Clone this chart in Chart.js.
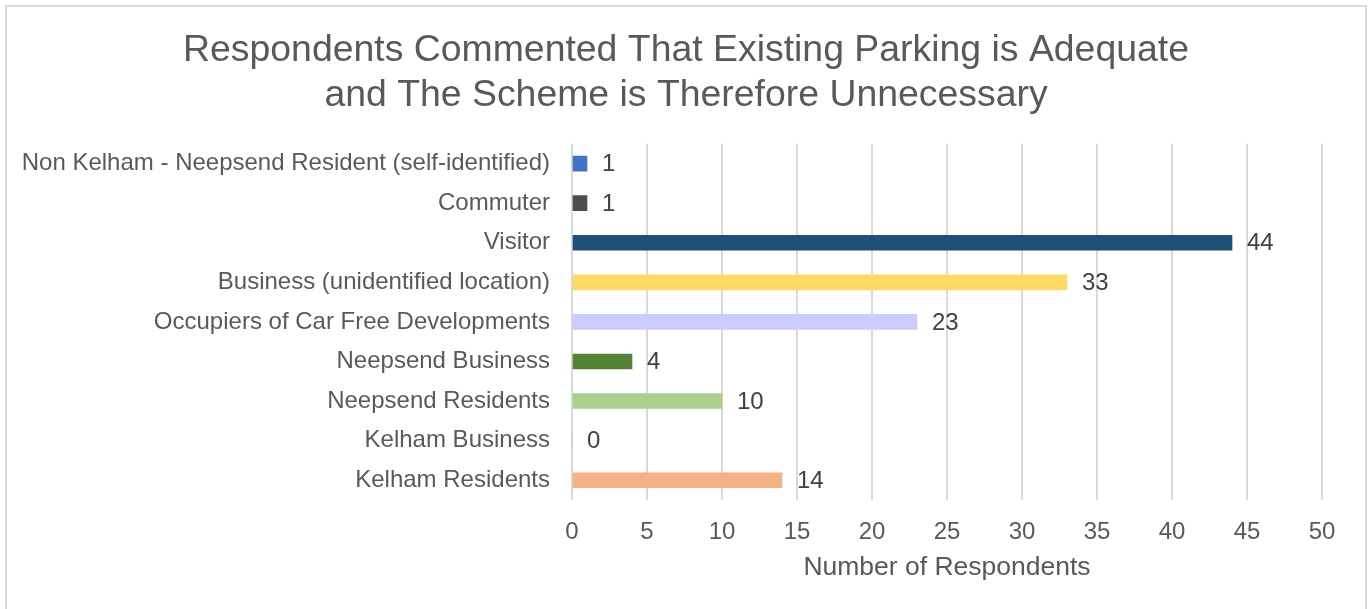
<!DOCTYPE html>
<html>
<head>
<meta charset="utf-8">
<script src="https://cdn.jsdelivr.net/npm/chart.js@4"></script>
<style>
  html, body { margin: 0; padding: 0; background: #fff; }
  #frame { position: absolute; left: 5px; top: 5px; width: 1358px; height: 620px; border: 2px solid #d9d9d9; }
  #wrap { position: absolute; left: 0; top: 0; width: 1369px; height: 609px; }
</style>
</head>
<body>
<div id="frame"></div>
<div id="wrap"><canvas id="respondentsChart" width="1369" height="609"></canvas></div>
<script>
const categories = [
    'Non Kelham - Neepsend Resident (self-identified)',
    'Commuter',
    'Visitor',
    'Business (unidentified location)',
    'Occupiers of Car Free Developments',
    'Neepsend Business',
    'Neepsend Residents',
    'Kelham Business',
    'Kelham Residents'
];
const respondents = [1, 1, 44, 33, 23, 4, 10, 0, 14];
const barColours = ['#4472C4', '#4D4D4D', '#1F4E79', '#FFD966', '#CCCCFF', '#548235', '#A9D18E', '#A5A5A5', '#F4B183'];
const titleLines = ['Respondents Commented That Existing Parking is Adequate', 'and The Scheme is Therefore Unnecessary'];

const fontFamily = '"Liberation Sans", Arial, sans-serif';

// draws the value next to the end of each bar
const valueLabels = {
    id: 'valueLabels',
    afterDatasetsDraw(chart) {
        const ctx = chart.ctx;
        const meta = chart.getDatasetMeta(0);
        ctx.save();
        ctx.font = '24px ' + fontFamily;
        ctx.fillStyle = '#404040';
        ctx.textAlign = 'left';
        ctx.textBaseline = 'middle';
        meta.data.forEach((bar, i) => {
            ctx.fillText(String(respondents[i]), bar.x + 15, bar.y + 1);
        });
        ctx.restore();
    }
};

document.addEventListener('DOMContentLoaded', function() {
    const ctx = document.getElementById('respondentsChart').getContext('2d');
    new Chart(ctx, {
        type: 'bar',
        data: {
            labels: categories,
            datasets: [{
                label: 'Number of Respondents',
                data: respondents,
                backgroundColor: barColours,
                barThickness: 15
            }]
        },
        plugins: [valueLabels],
        options: {
            indexAxis: 'y',
            responsive: false,
            animation: false,
            layout: { padding: { left: 3, right: 0, top: 0, bottom: 0 } },
            plugins: {
                legend: { display: false },
                tooltip: { enabled: false },
                title: {
                    display: true,
                    text: titleLines,
                    color: '#595959',
                    font: { family: fontFamily, size: 37.4, weight: 'normal', lineHeight: 1.2 },
                    padding: { top: 28, bottom: 26 }
                }
            },
            scales: {
                x: {
                    min: 0,
                    max: 50,
                    ticks: {
                        stepSize: 5,
                        color: '#595959',
                        font: { family: fontFamily, size: 24 },
                        padding: 18,
                        maxRotation: 0
                    },
                    grid: { color: '#d9d9d9', lineWidth: 2, drawTicks: false },
                    border: { display: false },
                    title: {
                        display: true,
                        text: 'Number of Respondents',
                        color: '#595959',
                        font: { family: fontFamily, size: 26.5 },
                        padding: { top: 4, bottom: 25 }
                    },
                    afterFit(scale) { scale.height = 109; }
                },
                y: {
                    ticks: {
                        color: '#595959',
                        font: { family: fontFamily, size: 24 },
                        padding: 22,
                        autoSkip: false
                    },
                    grid: { display: false, drawTicks: false },
                    border: { display: false },
                    afterFit(scale) { scale.width = 569; }
                },
                // empty axis that keeps room on the right for the last tick label
                yRight: {
                    type: 'linear',
                    position: 'right',
                    ticks: { display: false },
                    grid: { display: false, drawTicks: false },
                    border: { display: false },
                    afterFit(scale) { scale.width = 47; }
                }
            }
        }
    });
});
</script>
</body>
</html>
